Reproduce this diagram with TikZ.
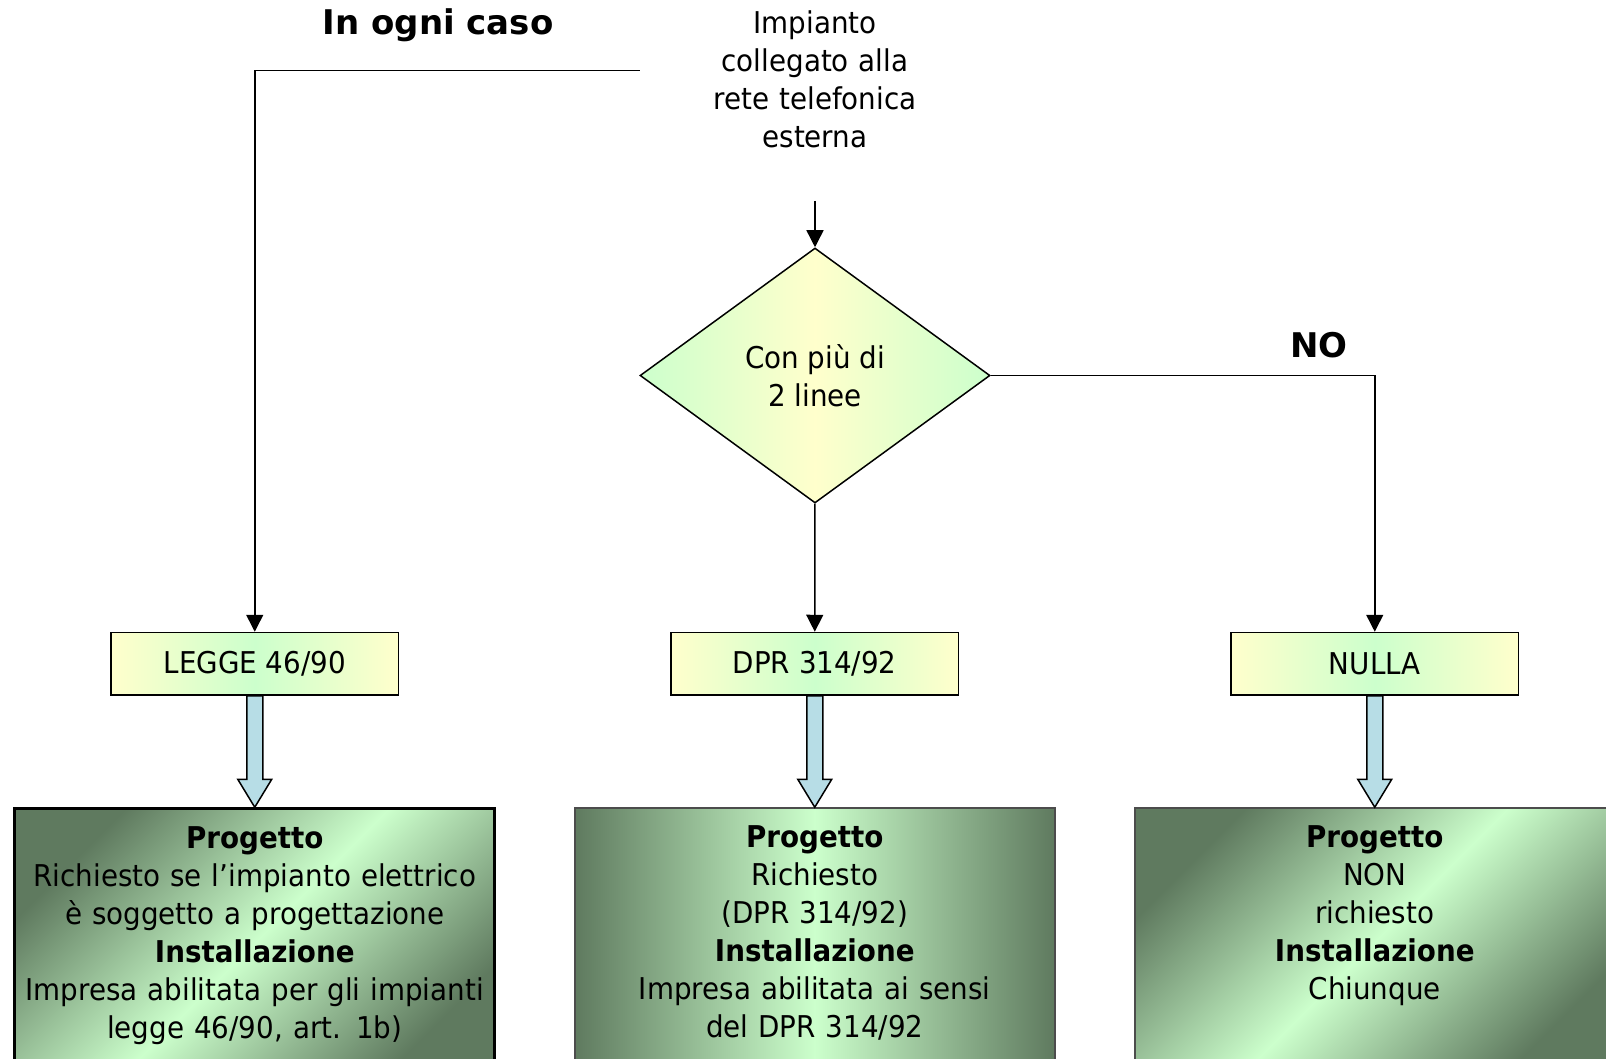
\documentclass[tikz,border=0pt]{standalone}
\usepackage{fontspec}
\setmainfont{DejaVu Sans}[FakeStretch=0.925]
\newfontfamily\tagface{DejaVu Sans}

\usetikzlibrary{shapes.geometric,positioning,arrows.meta,calc}

\definecolor{palegreen}{HTML}{CCFFCC}
\definecolor{paleyellow}{HTML}{FFFFCC}
\definecolor{darkgreen}{HTML}{5F7A5F}
\definecolor{pipeblue}{HTML}{B7DDE6}

\tikzset{
	boxfont/.style={font=\fontsize{30}{38}\selectfont},
	plain/.style={boxfont,text width=350pt,align=center,inner sep=0pt},
	decision/.style={diamond,draw,line width=1.5pt,inner sep=0pt,boxfont,align=center,
		minimum width=350pt,minimum height=255pt,
		left color=palegreen,right color=palegreen,middle color=paleyellow},
	law/.style={rectangle,draw,line width=1.5pt,boxfont,minimum width=287.5pt,minimum height=62.5pt,
		left color=paleyellow,right color=paleyellow,middle color=palegreen},
	result/.style={rectangle,draw,line width=1.5pt,boxfont,text width=470pt,inner xsep=5pt,
		align=center,inner ysep=18pt,text depth=210pt},
	cornershade/.style={top color=darkgreen,bottom color=darkgreen,middle color=palegreen,shading angle=45},
	sideshade/.style={left color=darkgreen,right color=darkgreen,middle color=palegreen},
	tag/.style={font=\tagface\fontsize{34}{40}\selectfont\bfseries,inner sep=0pt},
	flow/.style={line width=1.5pt,-{Triangle[length=17pt,width=17pt]}},
	pipe/.style={draw,fill=pipeblue,line width=1.5pt,
		to path={($(\tikztostart)+(-8,0)$) -- ($(\tikztotarget)+(-8,-28)$)
			-- ($(\tikztotarget)+(-17,-28)$) -- (\tikztotarget) -- ($(\tikztotarget)+(17,-28)$)
			-- ($(\tikztotarget)+(8,-28)$) -- ($(\tikztostart)+(8,0)$) -- cycle}}
}

\begin{document}
\begin{tikzpicture}[x=1pt,y=-1pt,auto,node distance=1cm]
	\useasboundingbox (0,0) rectangle (1606,1059);
	% The question on top and the decision below it (ID=cond)
	\node[plain] (start) at (815,79) {Impianto\\collegato alla\\rete telefonica\\esterna};
	\node[decision] (cond) at (815,375.5) {Con più di\\2 linee};
	% Now the three laws in a row
	\node[law] (law1) at (254.75,663.75) {LEGGE 46/90};
	\node[law] (law2) [right = 271pt of law1] {DPR 314/92};
	\node[law] (law3) [right = 271pt of law2] {NULLA};
	% Now the result under each law
	\node[result,cornershade,line width=3pt] (res1) [below = 111.5pt of law1]
		{\textbf{Progetto}\\Richiesto se l’impianto elettrico\\è soggetto a progettazione\\\textbf{Installazione}\\Impresa abilitata per gli impianti\\legge 46/90, art. 1b)};
	\node[result,sideshade,draw=black!70] (res2) [below = 111.5pt of law2]
		{\textbf{Progetto}\\Richiesto\\(DPR 314/92)\\\textbf{Installazione}\\Impresa abilitata ai sensi\\del DPR 314/92};
	\node[result,cornershade,draw=black!70] (res3) [below = 111.5pt of law3]
		{\textbf{Progetto}\\NON\\richiesto\\\textbf{Installazione}\\Chiunque};
	% Labels of the branches
	\node[tag] (always) at (438,25) {In ogni caso};
	\node[tag] (no) at (1319,345) {NO};
	% Draw the flow lines
	\draw[flow] ([yshift=-53pt]start.south) -- (cond);
	\draw[flow] ([yshift=8.3pt]start.west) -| (law1);
	\draw[flow] (cond) -- (law2);
	\draw[flow] (cond) -| (law3);
	% Hollow arrows from each law to its result
	\draw[pipe] (law1.south) to (res1.north);
	\draw[pipe] (law2.south) to (res2.north);
	\draw[pipe] (law3.south) to (res3.north);
\end{tikzpicture}
\end{document}
